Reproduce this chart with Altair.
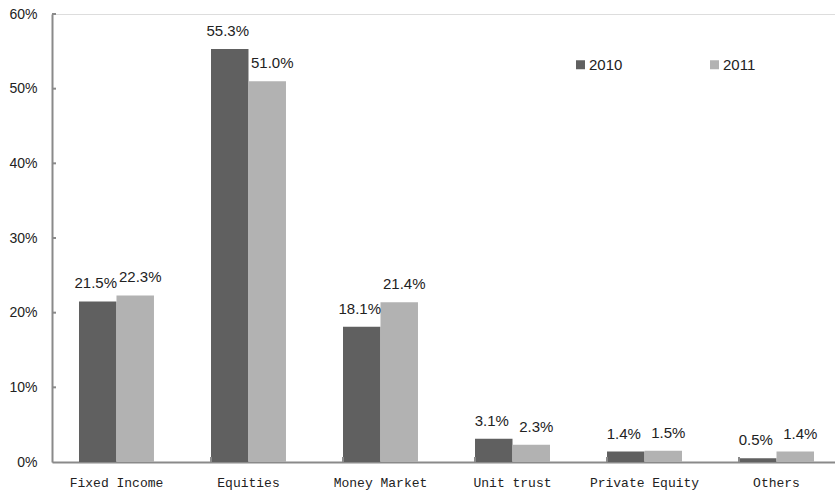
import altair as alt
import pandas as pd

# Asset allocation shares by category, 2010 vs 2011 (%)
categories = ["Fixed Income", "Equities", "Money Market", "Unit trust", "Private Equity", "Others"]
share_2010 = [21.5, 55.3, 18.1, 3.1, 1.4, 0.5]
share_2011 = [22.3, 51.0, 21.4, 2.3, 1.5, 1.4]
years = ["2010", "2011"]
y_ticks = [10, 20, 30, 40, 50, 60]

rows = []
for cat, a, b in zip(categories, share_2010, share_2011):
    rows.append({"category": cat, "year": "2010", "value": a})
    rows.append({"category": cat, "year": "2011", "value": b})
df = pd.DataFrame(rows)
df["label"] = df["value"].map(lambda v: f"{v:.1f}%")

W, H = 783, 448
AXIS_GREY = "#8a8a8a"

x_scale = alt.Scale(paddingInner=0.432, paddingOuter=0.2045, range=[0, 789])

x_enc = alt.X(
    "category:N",
    sort=categories,
    scale=x_scale,
    axis=alt.Axis(
        title=None, labelAngle=0, ticks=False, domainColor=AXIS_GREY, domainWidth=2,
        labelFont="Liberation Mono", labelFontSize=13, labelColor="#222222", labelPadding=14,
    ),
)
y_enc = alt.Y(
    "value:Q",
    scale=alt.Scale(domain=[0, 60], nice=False),
    axis=alt.Axis(
        title=None, values=[0] + y_ticks, ticks=False, grid=False,
        domainColor=AXIS_GREY, domainWidth=2,
        labelExpr="datum.value + '%'", labelFont="Liberation Sans", labelFontSize=14,
        labelColor="#222222", labelPadding=15,
    ),
)
offset = alt.XOffset("year:N", sort=years, scale=alt.Scale(paddingInner=0, paddingOuter=0))

base = alt.Chart(df)

bars = base.mark_bar().encode(
    x=x_enc,
    xOffset=offset,
    y=y_enc,
    color=alt.Color(
        "year:N",
        scale=alt.Scale(domain=years, range=["#606060", "#b2b2b2"]),
        legend=alt.Legend(
            title=None, orient="none", legendX=521, legendY=43, direction="horizontal",
            symbolType="square", symbolSize=81, symbolStrokeWidth=0,
            labelFont="Liberation Sans", labelFontSize=15, labelColor="#222222",
            labelOffset=1, columnPadding=84,
        ),
    ),
)


def value_labels(year, shift):
    return base.transform_filter(alt.datum.year == year).mark_text(
        font="Liberation Sans", fontSize=15, color="#222222", baseline="middle",
        dy=-18, dx=shift,
    ).encode(
        x=alt.X("category:N", sort=categories),
        xOffset=offset,
        y="value:Q",
        text="label:N",
    )


labels_2010 = value_labels("2010", -2)
labels_2011 = value_labels("2011", 5)

# inward tick marks on the value axis
ytick_rules = alt.Chart(pd.DataFrame({"t": y_ticks})).mark_rule(
    color=AXIS_GREY, strokeWidth=2
).encode(y="t:Q", x=alt.value(0), x2=alt.value(4))

# inward tick marks between category groups
xtick_rules = alt.Chart(pd.DataFrame({"category": categories[1:]})).mark_rule(
    color=AXIS_GREY, strokeWidth=2
).encode(
    x=alt.X("category:N", sort=categories, bandPosition=0),
    y=alt.value(H),
    y2=alt.value(H - 5),
)

chart = alt.layer(bars, labels_2010, labels_2011, ytick_rules, xtick_rules).properties(
    width=W,
    height=H,
    autosize=alt.AutoSizeParams(type="none"),
    padding={"left": 52, "top": 14, "right": 0, "bottom": 35},
).configure_view(stroke=None).configure(background="white")

chart.save("out.html", embed_options={"renderer": "svg", "actions": False})
